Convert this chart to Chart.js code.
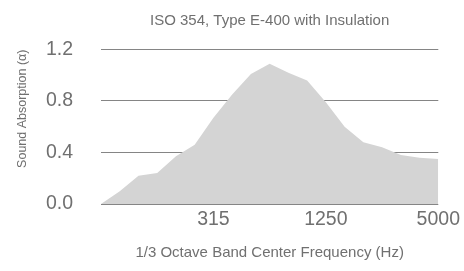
<!DOCTYPE html>
<html>
<head>
<meta charset="utf-8">
<script src="https://cdn.jsdelivr.net/npm/chart.js@4"></script>
<style>
  html, body { margin: 0; padding: 0; background: #fff; }
  #wrap { width: 464px; height: 271px; }
</style>
</head>
<body>
<div id="wrap"><canvas id="absChart" width="464" height="271"></canvas></div>
<script>
// 1/3 octave band centre frequencies (Hz)
const bands = ['80', '100', '125', '160', '200', '250', '315', '400', '500', '630',
               '800', '1000', '1250', '1600', '2000', '2500', '3150', '4000', '5000'];
// sound absorption coefficient per band
const absorption = [0.00, 0.10, 0.22, 0.24, 0.37, 0.46, 0.67, 0.85, 1.01, 1.09,
                    1.02, 0.96, 0.79, 0.60, 0.48, 0.44, 0.38, 0.36, 0.35];
const shownBands = ['315', '1250', '5000'];
const yTicks = [0, 0.4, 0.8, 1.2];

const textColor = '#707070';
const fontFamily = '"Liberation Sans", Arial, sans-serif';

document.addEventListener('DOMContentLoaded', function() {
    const ctx = document.getElementById('absChart');

    new Chart(ctx, {
        type: 'line',
        data: {
            labels: bands,
            datasets: [{
                data: absorption,
                fill: 'origin',
                backgroundColor: '#d4d4d4',
                borderWidth: 0,
                pointRadius: 0,
                tension: 0
            }]
        },
        options: {
            responsive: false,
            animation: false,
            layout: { padding: { top: 0, right: 24, left: 0, bottom: 0 } },
            plugins: {
                legend: { display: false },
                tooltip: { enabled: false },
                title: {
                    display: true,
                    fullSize: false,
                    text: 'ISO 354, Type E-400 with Insulation',
                    color: textColor,
                    font: { family: fontFamily, size: 15, weight: 'normal' },
                    padding: { top: 12, bottom: 19.5 }
                }
            },
            scales: {
                x: {
                    offset: false,
                    grid: { display: false, drawTicks: false },
                    border: { display: false },
                    afterFit: function(axis) { axis.height = 67; },
                    ticks: {
                        autoSkip: false,
                        maxRotation: 0,
                        color: textColor,
                        font: { family: fontFamily, size: 19.5 },
                        padding: 4,
                        callback: function(value) {
                            const lbl = bands[value];
                            return shownBands.includes(lbl) ? lbl : '';
                        }
                    },
                    title: {
                        display: true,
                        text: '1/3 Octave Band Center Frequency (Hz)',
                        color: textColor,
                        font: { family: fontFamily, size: 15 },
                        padding: { top: 0, bottom: 9 }
                    }
                },
                y: {
                    min: 0,
                    max: 1.2,
                    afterBuildTicks: function(axis) {
                        axis.ticks = yTicks.map(v => ({ value: v }));
                    },
                    afterFit: function(axis) { axis.width = 101; },
                    grid: { color: '#858585', drawTicks: false, lineWidth: 1 },
                    border: { display: false },
                    ticks: {
                        color: textColor,
                        font: { family: fontFamily, size: 19.5 },
                        padding: 28,
                        callback: v => v.toFixed(1)
                    },
                    title: {
                        display: true,
                        align: 'end',
                        text: 'Sound Absorption (α)',
                        color: textColor,
                        font: { family: fontFamily, size: 12.5 },
                        padding: { top: 15, bottom: 0 }
                    }
                }
            }
        }
    });
});
</script>
</body>
</html>
